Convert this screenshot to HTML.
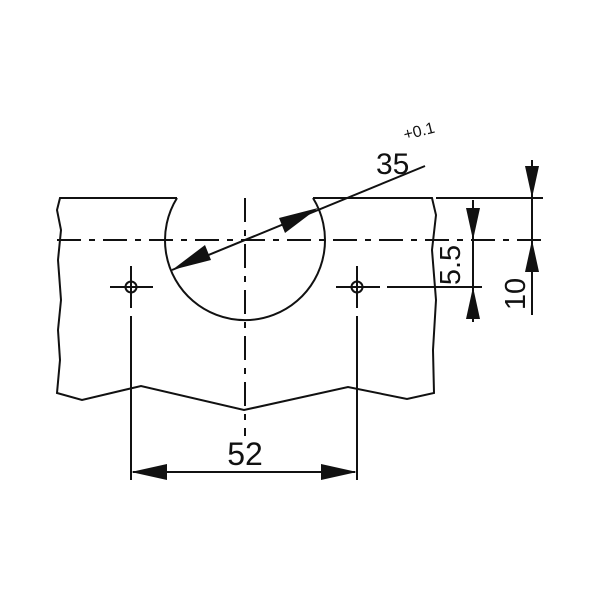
<!DOCTYPE html>
<html><head><style>body{margin:0;background:#fff}</style></head><body>
<svg width="600" height="600" viewBox="0 0 600 600" xmlns="http://www.w3.org/2000/svg">
<rect width="600" height="600" fill="#fff"/>
<g stroke="#111" stroke-width="2" fill="none">
<path d="M177,198 L60,198 L57,210 L61,230 L58,260 L61,300 L58,330 L60,360 L57,393 L82,400 L141,386 L244,410 L348,387 L407,399 L434,393 L433,350 L436,300 L432,250 L436,215 L432,198 L313,198"/>
<path d="M177,198 A80,80 0 1 0 313,198"/>
<line x1="436" y1="198" x2="543" y2="198"/>
<line x1="57" y1="240" x2="543" y2="240" stroke-dasharray="24,8,6,8"/>
<line x1="245" y1="198" x2="245" y2="436" stroke-dasharray="24,8,6,8"/>
<circle cx="131" cy="287" r="5.5"/>
<circle cx="357" cy="287" r="5.5"/>
<line x1="110" y1="287" x2="153" y2="287"/>
<line x1="336" y1="287" x2="380" y2="287"/>
<line x1="387" y1="287" x2="482" y2="287"/>
<line x1="131" y1="266" x2="131" y2="308"/>
<line x1="131" y1="316" x2="131" y2="480"/>
<line x1="357" y1="266" x2="357" y2="308"/>
<line x1="357" y1="316" x2="357" y2="480"/>
<line x1="172" y1="270" x2="425" y2="166"/>
<line x1="473" y1="200" x2="473" y2="322"/>
<line x1="532" y1="160" x2="532" y2="315"/>
<line x1="133" y1="472" x2="355" y2="472"/>
</g>
<g fill="#111">
<polygon points="172,270 205,245 211,260"/>
<polygon points="318,208 285,233 279,218"/>
<polygon points="473,240 466,208 480,208"/>
<polygon points="473,287 466,319 480,319"/>
<polygon points="532,198 525,166 539,166"/>
<polygon points="532,240 525,272 539,272"/>
<polygon points="131,472 167,464 167,480"/>
<polygon points="357,472 321,464 321,480"/>
</g>
<g font-family="Liberation Sans, sans-serif" fill="#111">
<text x="376" y="174" font-size="30">35</text>
<text x="405" y="140" font-size="16" transform="rotate(-14 405 140)">+0.1</text>
<text x="245" y="465" font-size="32" text-anchor="middle">52</text>
<text x="0" y="0" font-size="29" text-anchor="middle" transform="translate(460,265) rotate(-90)">5.5</text>
<text x="0" y="0" font-size="29" text-anchor="middle" transform="translate(525,294) rotate(-90)">10</text>
</g>
</svg>
</body></html>
